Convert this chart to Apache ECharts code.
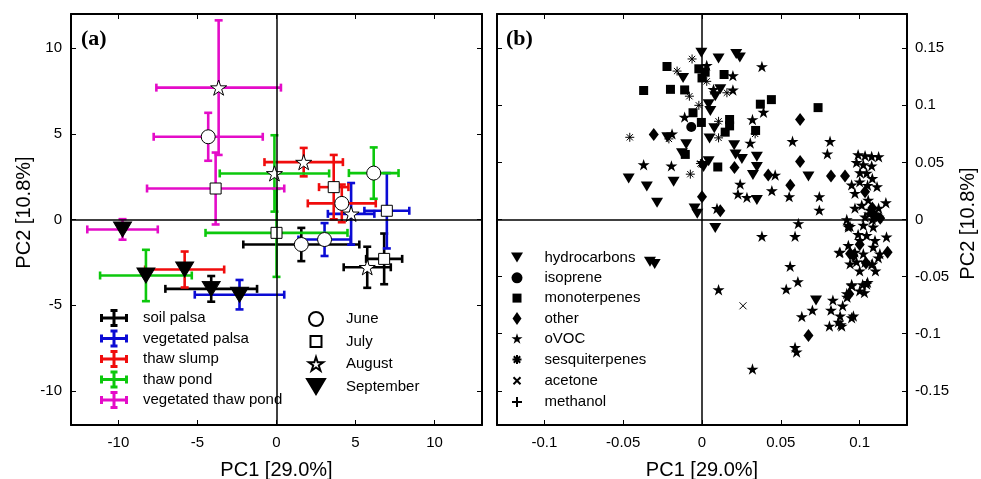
<!DOCTYPE html>
<html>
<head>
<meta charset="utf-8">
<title>PCA</title>
<script src="https://cdn.jsdelivr.net/npm/echarts@6.0.0/dist/echarts.min.js"></script>
<style>
html,body{margin:0;padding:0;background:#fff;}
#chart{width:981px;height:479px;}
</style>
</head>
<body>
<div id="chart"></div>
<script>
// ---------- Panel (a): site means per month (June, July, August, September) ----------
const months = ['June', 'July', 'August', 'September'];
const sites = ['soil palsa', 'vegetated palsa', 'thaw slump', 'thaw pond', 'vegetated thaw pond'];

const soilPalsaX    = [1.57, 6.81, 5.74, -4.13];
const soilPalsaY    = [-1.46, -2.30, -2.79, -4.05];
const soilPalsaXErr = [3.67, 1.14, 1.49, 2.90];
const soilPalsaYErr = [0.97, 1.48, 1.20, 0.75];

const vegPalsaX    = [3.04, 6.98, 4.72, -2.34];
const vegPalsaY    = [-1.17, 0.51, 0.33, -4.39];
const vegPalsaXErr = [1.65, 1.42, 1.47, 2.83];
const vegPalsaYErr = [0.96, 2.20, 1.80, 0.86];

const thawSlumpX    = [4.13, 3.62, 1.72, -5.81];
const thawSlumpY    = [0.94, 1.89, 3.35, -2.92];
const thawSlumpXErr = [2.15, 0.93, 2.48, 2.50];
const thawSlumpYErr = [1.10, 1.88, 0.83, 1.05];

const thawPondX    = [6.15, 0.00, -0.13, -8.26];
const thawPondY    = [2.71, -0.78, 2.69, -3.27];
const thawPondXErr = [1.57, 4.49, 3.46, 2.90];
const thawPondYErr = [1.50, 2.57, 2.23, 1.50];

const vegThawPondX    = [-4.32, -3.85, -3.66, -9.74];
const vegThawPondY    = [4.83, 1.81, 7.70, -0.58];
const vegThawPondXErr = [3.45, 4.34, 3.94, 2.23];
const vegThawPondYErr = [1.40, 2.10, 3.93, 0.60];

const xTicksA = [-10, -5, 0, 5, 10];
const yTicksA = [-10, -5, 0, 5, 10];

// ---------- Panel (b): loadings [PC1, PC2] ----------
const hydrocarbons = [[-0.0004,0.146],[0.0105,0.141],[0.0217,0.145],[0.024,0.142],[-0.012,0.124],[0.0116,0.114],[0.0084,0.108],[0.0042,0.101],[0.0053,0.095],[0.0078,0.080],[0.0048,0.071],[-0.022,0.072],[-0.010,0.066],[-0.0127,0.058],[0.0204,0.065],[0.0213,0.057],[0.0253,0.053],[0.0348,0.055],[0.0348,0.046],[0.0323,0.039],[0.0042,0.051],[0.001,0.046],[-0.0465,0.036],[-0.035,0.029],[-0.018,0.033],[-0.0285,0.0147],[0.0348,0.017],[-0.0047,0.0097],[-0.003,0.005],[0.0084,-0.0074],[0.0675,0.0376],[0.0723,-0.071],[-0.033,-0.037],[-0.030,-0.039]];
const isoprene = [[-0.0068,0.081]];
const monoterpenes = [[-0.0222,0.134],[-0.037,0.113],[-0.020,0.114],[-0.011,0.1135],[-0.002,0.132],[0.002,0.129],[0.0,0.124],[0.014,0.127],[0.037,0.101],[0.044,0.105],[0.0736,0.098],[-0.0057,0.0935],[-0.0004,0.085],[0.0175,0.0876],[0.0175,0.082],[0.0147,0.0765],[0.034,0.078],[-0.0106,0.057],[0.010,0.046]];
const other = [[-0.0306,0.0744],[0.0622,0.0876],[0.0622,0.0508],[0.0206,0.0455],[0.042,0.039],[0.056,0.030],[0.0,0.020],[0.0116,0.0076],[0.0818,0.038],[0.0907,0.038],[0.0675,-0.1015],[0.0934,-0.0653],[0.1177,-0.0286],[0.0939,-0.030],[0.1034,0.0244],[0.1097,0.003],[0.096,-0.0315],[0.1,-0.022],[0.108,0.01],[0.104,-0.038],[0.113,0.001]];
const oVOC = [[0.038,0.134],[0.0196,0.126],[0.0196,0.1135],[0.0073,0.114],[0.003,0.135],[0.039,0.094],[0.032,0.0876],[0.0306,0.067],[0.0574,0.0685],[-0.011,0.0897],[-0.019,0.075],[-0.037,0.048],[-0.0194,0.047],[0.0242,0.031],[0.0228,0.0223],[0.0285,0.0194],[0.0443,0.0253],[0.0553,0.020],[0.0464,0.039],[0.0095,0.0097],[0.038,-0.0147],[0.0,0.050],[0.0812,0.0685],[0.0795,0.0576],[0.0744,0.020],[0.0744,0.0082],[0.0611,-0.0035],[0.059,-0.0147],[0.0559,-0.041],[0.0918,0.0],[0.0928,-0.0065],[0.0875,-0.0286],[0.0105,-0.0615],[0.0608,-0.0545],[0.0534,-0.061],[0.0633,-0.085],[0.070,-0.0794],[0.059,-0.112],[0.060,-0.116],[0.032,-0.131],[0.083,-0.0706],[0.0818,-0.0794],[0.0892,-0.0756],[0.0808,-0.0933],[0.0865,-0.0898],[0.0886,-0.0933],[0.0949,-0.086],[0.0949,-0.057],[0.0918,-0.0648],[0.1019,-0.057],[0.105,-0.055],[0.103,-0.064],[0.0871,-0.029],[0.0928,-0.005],[0.108,-0.0388],[0.117,-0.0153],[0.098,-0.037],[0.099,0.0568],[0.1034,0.0559],[0.1076,0.0553],[0.1023,0.048],[0.1076,0.047],[0.1002,0.041],[0.1044,0.0406],[0.0949,0.0303],[0.111,0.0288],[0.097,0.023],[0.1054,0.017],[0.1166,0.0147],[0.1013,0.0126],[0.1065,0.0082],[0.1108,0.0038],[0.1034,0.0023],[0.0939,-0.006],[0.1023,-0.005],[0.1086,-0.0065],[0.1044,-0.0139],[0.1002,-0.0183],[0.1097,-0.0183],[0.1086,-0.0242],[0.0928,-0.0227],[0.097,-0.0286],[0.1023,-0.030],[0.1128,-0.030],[0.1034,-0.0374],[0.1076,-0.0395],[0.0939,-0.0388],[0.1118,-0.0335],[0.1044,-0.0565],[0.100,-0.0624],[0.095,-0.058],[0.092,-0.068],[0.0876,-0.0845],[0.096,-0.0845],[0.088,-0.092],[0.108,0.000],[0.112,0.002],[0.106,0.005],[0.105,0.030],[0.100,0.033],[0.108,0.036],[0.099,-0.013],[0.112,0.01],[0.097,0.01],[0.1,-0.045],[0.11,-0.045],[0.098,0.05],[0.112,0.055]];
const sesquiterpenes = [[-0.0063,0.1406],[-0.0158,0.130],[0.003,0.121],[-0.008,0.108],[0.0158,0.111],[-0.002,0.100],[0.0105,0.086],[0.0337,0.075],[0.0105,0.0715],[-0.021,0.0706],[-0.0458,0.072],[-0.0074,0.0397],[-0.001,0.049]];
const acetone = [[0.026,-0.0756]];
const methanol = [];

const xTicksB = [-0.1, -0.05, 0, 0.05, 0.1];
const yTicksB = [-0.15, -0.1, -0.05, 0, 0.05, 0.1, 0.15];

// ---------- styling / symbols ----------
const FONT = '"Liberation Sans", Arial, Helvetica, sans-serif';
const siteColors = ['#000000', '#0b0bd4', '#f00c0c', '#0cc80c', '#e40cc8'];

function starD(cx, cy, R) {
  const r = R * 0.382;
  let d = '';
  for (let k = 0; k < 10; k++) {
    const ang = -Math.PI / 2 + k * Math.PI / 5;
    const rad = k % 2 === 0 ? R : r;
    d += (k === 0 ? 'M' : 'L') + (cx + rad * Math.cos(ang)).toFixed(2) + ',' + (cy + rad * Math.sin(ang)).toFixed(2);
  }
  return d + 'Z';
}
const STAR = 'path://' + starD(10, 10, 10);
const TRI_DOWN = 'path://M0,0L20,0L10,17Z';
const ASTER = 'path://M5,0L5,10M0,5L10,5M1.5,1.5L8.5,8.5M8.5,1.5L1.5,8.5';
const CROSS_X = 'path://M0,0L10,10M10,0L0,10';
const PLUS = 'path://M5,0L5,10M0,5L10,5';

// legend icons padded into a fixed box so their drawn size matches the reference
function padIcon(box, body) { return 'path://M0,0M' + box + ',' + box + body; }
const ERR_ICON = 'path://M0,7.5h28v3h-28zM0,5h3v8h-3zM25,5h3v8h-3zM12.5,0h3v18h-3zM10.5,0h7v3h-7zM10.5,15h7v3h-7z';
const monthIcons = [
  padIcon(18, 'M2,9a7,7 0 1,0 14,0a7,7 0 1,0 -14,0z'),
  padIcon(18, 'M3.5,3.5h11v11h-11z'),
  padIcon(18, starD(9, 9.6, 7.6)),
  padIcon(18, 'M0,1.5L18,1.5L9,16.5Z')
];
const bIcons = [
  padIcon(14, 'M1,2L13,2L7,12Z'),
  padIcon(14, 'M1.5,7a5.5,5.5 0 1,0 11,0a5.5,5.5 0 1,0 -11,0z'),
  padIcon(14, 'M2.5,2.5h9v9h-9z'),
  padIcon(14, 'M7,0.5L11.5,7L7,13.5L2.5,7Z'),
  padIcon(14, starD(7, 7.4, 5.8)),
  padIcon(14, 'M7,2.5L7,11.5M2.5,7L11.5,7M3.8,3.8L10.2,10.2M10.2,3.8L3.8,10.2'),
  padIcon(14, 'M3.5,3.5L10.5,10.5M10.5,3.5L3.5,10.5'),
  padIcon(14, 'M7,2L7,12M2,7L12,7')
];

// ---------- assemble panel (a) series ----------
const siteData = [
  [soilPalsaX, soilPalsaY, soilPalsaXErr, soilPalsaYErr],
  [vegPalsaX, vegPalsaY, vegPalsaXErr, vegPalsaYErr],
  [thawSlumpX, thawSlumpY, thawSlumpXErr, thawSlumpYErr],
  [thawPondX, thawPondY, thawPondXErr, thawPondYErr],
  [vegThawPondX, vegThawPondY, vegThawPondXErr, vegThawPondYErr]
];

function renderErrorBar(params, api) {
  const x = api.value(0), y = api.value(1), ex = api.value(2), ey = api.value(3);
  const c = api.coord([x, y]);
  const left = api.coord([x - ex, y])[0];
  const right = api.coord([x + ex, y])[0];
  const top = api.coord([x, y + ey])[1];
  const bottom = api.coord([x, y - ey])[1];
  const cap = 4;
  const color = api.visual('color');
  const seg = (x1, y1, x2, y2) => ({ type: 'line', shape: { x1: x1, y1: y1, x2: x2, y2: y2 }, style: { stroke: color, lineWidth: 2.6 } });
  return { type: 'group', children: [
    seg(left, c[1], right, c[1]),
    seg(left, c[1] - cap, left, c[1] + cap),
    seg(right, c[1] - cap, right, c[1] + cap),
    seg(c[0], top, c[0], bottom),
    seg(c[0] - cap, top, c[0] + cap, top),
    seg(c[0] - cap, bottom, c[0] + cap, bottom)
  ]};
}

const zeroLines = {
  silent: true, symbol: ['none', 'none'], label: { show: false },
  lineStyle: { color: '#000', width: 1.5, type: 'solid' },
  emphasis: { disabled: true },
  data: [{ xAxis: 0 }, { yAxis: 0 }]
};

const series = [];
sites.forEach((name, i) => {
  const d = siteData[i];
  const s = {
    type: 'custom', name: name, xAxisIndex: 0, yAxisIndex: 0, z: 2,
    itemStyle: { color: siteColors[i] },
    encode: { x: 0, y: 1 },
    renderItem: renderErrorBar,
    data: months.map((m, j) => [d[0][j], d[1][j], d[2][j], d[3][j]])
  };
  if (i === 0) s.markLine = zeroLines;
  series.push(s);
});

const monthStyle = [
  { symbol: 'circle', symbolSize: 14, color: '#fff' },
  { symbol: 'rect', symbolSize: 11, color: '#fff' },
  { symbol: STAR, symbolSize: 16, color: '#fff' },
  { symbol: TRI_DOWN, symbolSize: [18, 15], color: '#000' }
];
months.forEach((m, j) => {
  series.push({
    type: 'scatter', name: m, xAxisIndex: 0, yAxisIndex: 0, z: 4,
    symbol: monthStyle[j].symbol, symbolSize: monthStyle[j].symbolSize,
    symbolKeepAspect: j === 2,
    itemStyle: { color: monthStyle[j].color, borderColor: '#000', borderWidth: 1, opacity: 1 },
    emphasis: { disabled: true },
    data: siteData.map(d => [d[0][j], d[1][j]])
  });
});

// ---------- panel (b) series ----------
const bNames = ['hydrocarbons', 'isoprene', 'monoterpenes', 'other', 'oVOC', 'sesquiterpenes', 'acetone', 'methanol'];
const bData = [hydrocarbons, isoprene, monoterpenes, other, oVOC, sesquiterpenes, acetone, methanol];
const bStyle = [
  { symbol: TRI_DOWN, size: [12, 10], fill: true },
  { symbol: 'circle', size: 10, fill: true },
  { symbol: 'rect', size: 9, fill: true },
  { symbol: 'diamond', size: [10, 13], fill: true },
  { symbol: STAR, size: 12, fill: true, keep: true },
  { symbol: ASTER, size: 9, fill: false },
  { symbol: CROSS_X, size: 7, fill: false },
  { symbol: PLUS, size: 9, fill: false }
];
bNames.forEach((n, k) => {
  const st = bStyle[k];
  const s = {
    type: 'scatter', name: n, xAxisIndex: 2, yAxisIndex: 2, z: 3,
    symbol: st.symbol, symbolSize: st.size, symbolKeepAspect: !!st.keep,
    itemStyle: st.fill ? { color: '#000', opacity: 1 } : { color: 'rgba(0,0,0,0)', borderColor: '#000', borderWidth: 1, opacity: 1 },
    emphasis: { disabled: true },
    data: bData[k]
  };
  if (k === 0) s.markLine = zeroLines;
  series.push(s);
});

// ---------- axes ----------
function mkAxis(o) {
  return {
    type: 'value', gridIndex: o.grid, position: o.pos, min: o.min, max: o.max,
    axisLine: { show: true, onZero: false, lineStyle: { color: '#000', width: 2 } },
    axisTick: { show: true, inside: true, length: 5, customValues: o.ticks, lineStyle: { color: '#000', width: 1 } },
    axisLabel: { show: !!o.label, customValues: o.ticks, color: '#000', fontSize: 15, fontFamily: FONT, margin: o.margin || 9 },
    splitLine: { show: false },
    name: o.name || '', nameLocation: 'middle', nameGap: o.nameGap || 0,
    nameTextStyle: { color: '#000', fontSize: 20, fontFamily: FONT, padding: o.namePad || 0 }
  };
}

const option = {
  animation: false,
  backgroundColor: '#fff',
  textStyle: { fontFamily: FONT },
  grid: [
    { left: 71, top: 14, width: 411, height: 411, outerBoundsMode: 'none', containLabel: false },
    { left: 497, top: 14, width: 410, height: 411, outerBoundsMode: 'none', containLabel: false }
  ],
  xAxis: [
    mkAxis({ grid: 0, pos: 'bottom', min: -13, max: 13, ticks: xTicksA, label: true, name: 'PC1 [29.0%]', nameGap: 35, margin: 10 }),
    mkAxis({ grid: 0, pos: 'top', min: -13, max: 13, ticks: xTicksA }),
    mkAxis({ grid: 1, pos: 'bottom', min: -0.13, max: 0.13, ticks: xTicksB, label: true, name: 'PC1 [29.0%]', nameGap: 35, margin: 10 }),
    mkAxis({ grid: 1, pos: 'top', min: -0.13, max: 0.13, ticks: xTicksB })
  ],
  yAxis: [
    mkAxis({ grid: 0, pos: 'left', min: -12, max: 12, ticks: yTicksA, label: true, name: 'PC2 [10.8%]', nameGap: 37, namePad: [0, 0, 0, 14] }),
    mkAxis({ grid: 0, pos: 'right', min: -12, max: 12, ticks: yTicksA }),
    mkAxis({ grid: 1, pos: 'right', min: -0.18, max: 0.18, ticks: yTicksB, label: true, name: 'PC2 [10.8%]', nameGap: 51, margin: 8, namePad: [0, 8, 0, 0] }),
    mkAxis({ grid: 1, pos: 'left', min: -0.18, max: 0.18, ticks: yTicksB })
  ],
  legend: [
    {
      orient: 'vertical', left: 100, top: 309, padding: 0, itemGap: 2.5,
      itemWidth: 28, itemHeight: 18, selectedMode: false,
      data: sites.map(n => ({ name: n, icon: ERR_ICON })),
      textStyle: { fontSize: 15, color: '#000', fontFamily: FONT, padding: [0, 0, 0, 10] }
    },
    {
      orient: 'vertical', left: 306, top: 309, padding: 0, itemGap: 2.5,
      itemWidth: 50, itemHeight: 18, selectedMode: false,
      data: months.map((n, j) => ({ name: n, icon: monthIcons[j] })),
      textStyle: { fontSize: 15, color: '#000', fontFamily: FONT }
    },
    {
      orient: 'vertical', left: 509, top: 250, padding: 0, itemGap: 5.3,
      itemWidth: 45, itemHeight: 14, selectedMode: false,
      data: bNames.map((n, k) => ({ name: n, icon: bIcons[k] })),
      textStyle: { fontSize: 15, color: '#000', fontFamily: FONT }
    }
  ],
  graphic: [
    { type: 'text', left: 81, top: 28, style: { text: '(a)', font: 'bold 22px "Liberation Serif", "Times New Roman", serif', fill: '#000' } },
    { type: 'text', left: 506, top: 28, style: { text: '(b)', font: 'bold 22px "Liberation Serif", "Times New Roman", serif', fill: '#000' } }
  ],
  series: series
};

const chart = echarts.init(document.getElementById('chart'), null, { renderer: 'canvas' });
chart.setOption(option);
</script>
</body>
</html>
